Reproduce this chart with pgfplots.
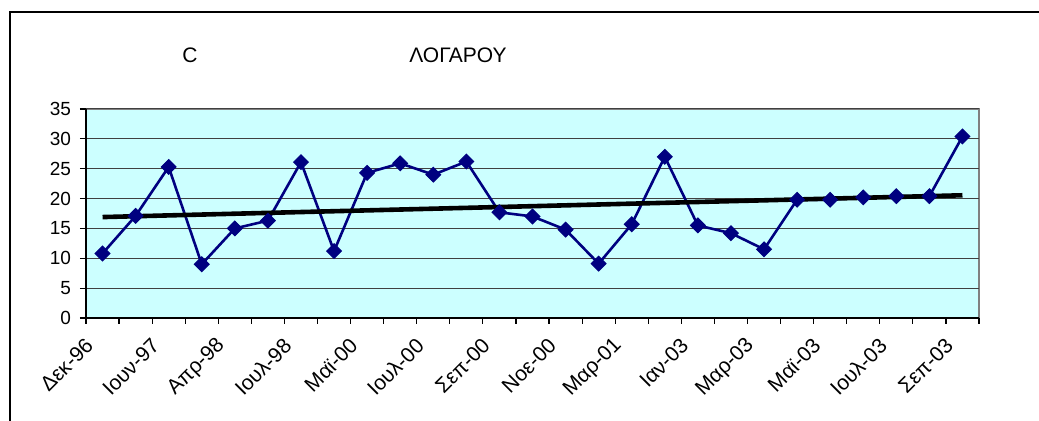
\documentclass[border=0pt]{standalone}
\usepackage{pgfplots}
\pgfplotsset{compat=1.18}
\usepackage{fontspec}
\setmainfont{Liberation Sans}
\definecolor{bgc}{HTML}{CCFFFF}
\definecolor{navy}{HTML}{000080}
\begin{document}
\begin{tikzpicture}
\path[use as bounding box] (0pt,0pt) rectangle (519.5pt,210.5pt);
\draw[black, line width=0.75pt] (5pt,0pt) -- (5pt,204.5pt) -- (525pt,204.5pt);
\node[font=\fontsize{10.5}{12}\selectfont] at (95pt,183pt) {C};
\node[font=\fontsize{10.5}{12}\selectfont] at (229pt,183pt) {ΛΟΓΑΡΟΥ};
\begin{axis}[
  at={(43pt,51.5pt)}, anchor=south west,
  scale only axis, width=446.5pt, height=104.5pt,
  xmin=0.5, xmax=27.5, ymin=0, ymax=35,
  axis lines=left, axis line style={-, black, line width=0.75pt},
  axis background/.style={fill=bgc, draw=gray, line width=1pt},
  ytick={0,5,...,35},
  ymajorgrids, grid style={black!75, line width=0.5pt},
  xtick={0.5,1.5,...,27.5},
  xticklabels={},
  extra x ticks={1,3,...,27},
  extra x tick labels={Δεκ-96,Ιουν-97,Απρ-98,Ιουλ-98,Μαϊ-00,Ιουλ-00,Σεπ-00,Νοε-00,Μαρ-01,Ιαν-03,Μαρ-03,Μαϊ-03,Ιουλ-03,Σεπ-03},
  extra x tick style={major tick length=0pt, tick style={draw=none}, grid=none,
    xticklabel style={xshift=-6.5pt, yshift=-12pt, rotate=45, anchor=east, inner sep=0pt, font=\fontsize{10.5}{12}\selectfont}},
  tick align=outside,
  major tick length=3pt,
  tick style={black, line width=0.6pt},
  yticklabel style={font=\fontsize{9.5}{10}\selectfont, xshift=-1pt},
  /pgf/number format/assume math mode=true,
  clip=false,
]
\addplot[navy, line width=1.3pt, mark=square*, mark size=2.6pt, mark options={rotate=45, fill=navy, draw=navy, line width=0.5pt}] coordinates {
(1,10.8)(2,17.1)(3,25.3)(4,9.0)(5,15.0)(6,16.3)(7,26.1)(8,11.2)(9,24.3)
(10,25.9)(11,24.0)(12,26.2)(13,17.7)(14,17.0)(15,14.8)(16,9.1)(17,15.7)(18,27.0)
(19,15.5)(20,14.2)(21,11.5)(22,19.8)(23,19.8)(24,20.2)(25,20.4)(26,20.4)(27,30.4)};
\addplot[black, line width=2.3pt] coordinates {(1,16.9)(27,20.55)};
\end{axis}
\end{tikzpicture}
\end{document}
